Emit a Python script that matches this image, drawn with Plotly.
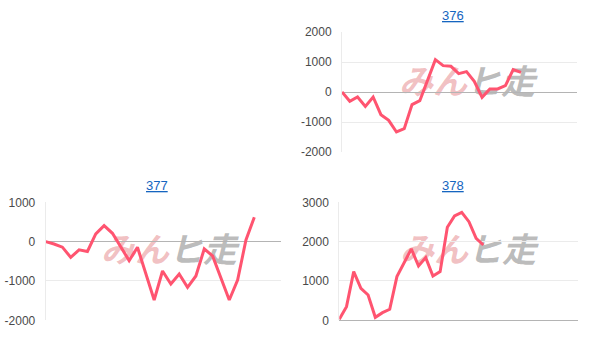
import plotly.graph_objects as go

titles = ["376", "377", "378"]
vals_376 = [0, -311, -167, -478, -167, -756, -944, -1333, -1222, -422, -289, 411,
            1078, 878, 856, 611, 678, 356, -178, 100, 100, 211, 744, 656]
vals_377 = [0, -60, -140, -400, -210, -250, 195, 407, 212, -144, -483, -144, -805,
            -1483, -746, -1076, -822, -1161, -873, -186, -364, -907, -1483, -975, 42, 619]
vals_378 = [25, 347, 1237, 814, 644, 76, 195, 280, 1110, 1449, 1814, 1381, 1593,
            1127, 1237, 2364, 2653, 2746, 2508, 2085, 1915]
series = [vals_376, vals_377, vals_378]
yticks = [[-2000, -1000, 0, 1000, 2000], [-2000, -1000, 0, 1000], [0, 1000, 2000, 3000]]
ytick_labels = [["-2000", "-1000", "0", "1000", "2000"], ["-2000", "-1000", "0", "1000"],
                ["0", "1000", "2000", "3000"]]
xmax = [30.2, 28.2, 33.1]
watermark_pink = "みん"
watermark_grey = "ヒ走"

W, H = 606, 348
# plot boxes in pixels: (left, right, top, bottom)
boxes = [(342, 577, 32, 152), (45.7, 281, 202.3, 320.3), (339.3, 577.7, 202.3, 320.3)]
title_pos = [(452.5, 16), (157, 186), (453, 186)]
wm_center = [(467, 85), (169, 253), (468, 253)]

LINE = "#ff5470"
fig = go.Figure()
layout = dict(width=W, height=H, margin=dict(l=0, r=0, t=0, b=0, autoexpand=False),
              paper_bgcolor="white", plot_bgcolor="rgba(0,0,0,0)", showlegend=False,
              font=dict(family="Arial, Liberation Sans", size=12, color="#444"))

# watermark layer (first subplot -> drawn beneath the data subplots)
fig.add_trace(go.Scatter(
    x=[c[0] for c in wm_center], y=[c[1] for c in wm_center], mode="text",
    text=["<b><i><span style='color:rgba(225,115,120,0.45)'>" + watermark_pink + "</span>"
          "<span style='color:rgba(130,130,130,0.55)'>" + watermark_grey + "</span></i></b>"] * 3,
    textfont=dict(size=34, family="Noto Sans CJK JP"), textposition="middle center",
    hoverinfo="skip", xaxis="x", yaxis="y"))
layout["xaxis"] = dict(domain=[0, 1], range=[0, W], visible=False, fixedrange=True,
                       automargin=False)
layout["yaxis"] = dict(domain=[0, 1], range=[H, 0], visible=False, fixedrange=True,
                       automargin=False)

annotations = []
for i, vals in enumerate(series):
    n = str(i + 2)
    l, r, t, b = boxes[i]
    fig.add_trace(go.Scatter(x=list(range(len(vals))), y=vals, mode="lines",
                             line=dict(color=LINE, width=3), xaxis="x" + n, yaxis="y" + n,
                             hoverinfo="skip"))
    layout["xaxis" + n] = dict(domain=[l / W, r / W], range=[0, xmax[i]], showgrid=False,
                               zeroline=False, showticklabels=False, ticks="",
                               anchor="y" + n, fixedrange=True, automargin=False)
    yr = [yticks[i][0], yticks[i][-1]]
    layout["yaxis" + n] = dict(domain=[1 - b / H, 1 - t / H], range=yr,
                               tickmode="array", tickvals=yticks[i], ticktext=ytick_labels[i],
                               showgrid=True, gridcolor="#ebebeb", gridwidth=1,
                               zeroline=True, zerolinecolor="#b4b4b4", zerolinewidth=1,
                               showline=True, linecolor="#ebebeb", linewidth=1,
                               ticks="", ticklen=0, anchor="x" + n, ticklabelstandoff=7,
                               automargin=False,
                               tickfont=dict(size=12, color="#4a4a4a"), fixedrange=True)
    tx, ty = title_pos[i]
    annotations.append(dict(text="<u>" + titles[i] + "</u>", x=tx / W, y=1 - ty / H,
                            xref="paper", yref="paper", showarrow=False,
                            xanchor="center", yanchor="middle",
                            font=dict(size=13, color="#1565c0")))
layout["annotations"] = annotations
fig.update_layout(**layout)
fig.write_html("out.html")
